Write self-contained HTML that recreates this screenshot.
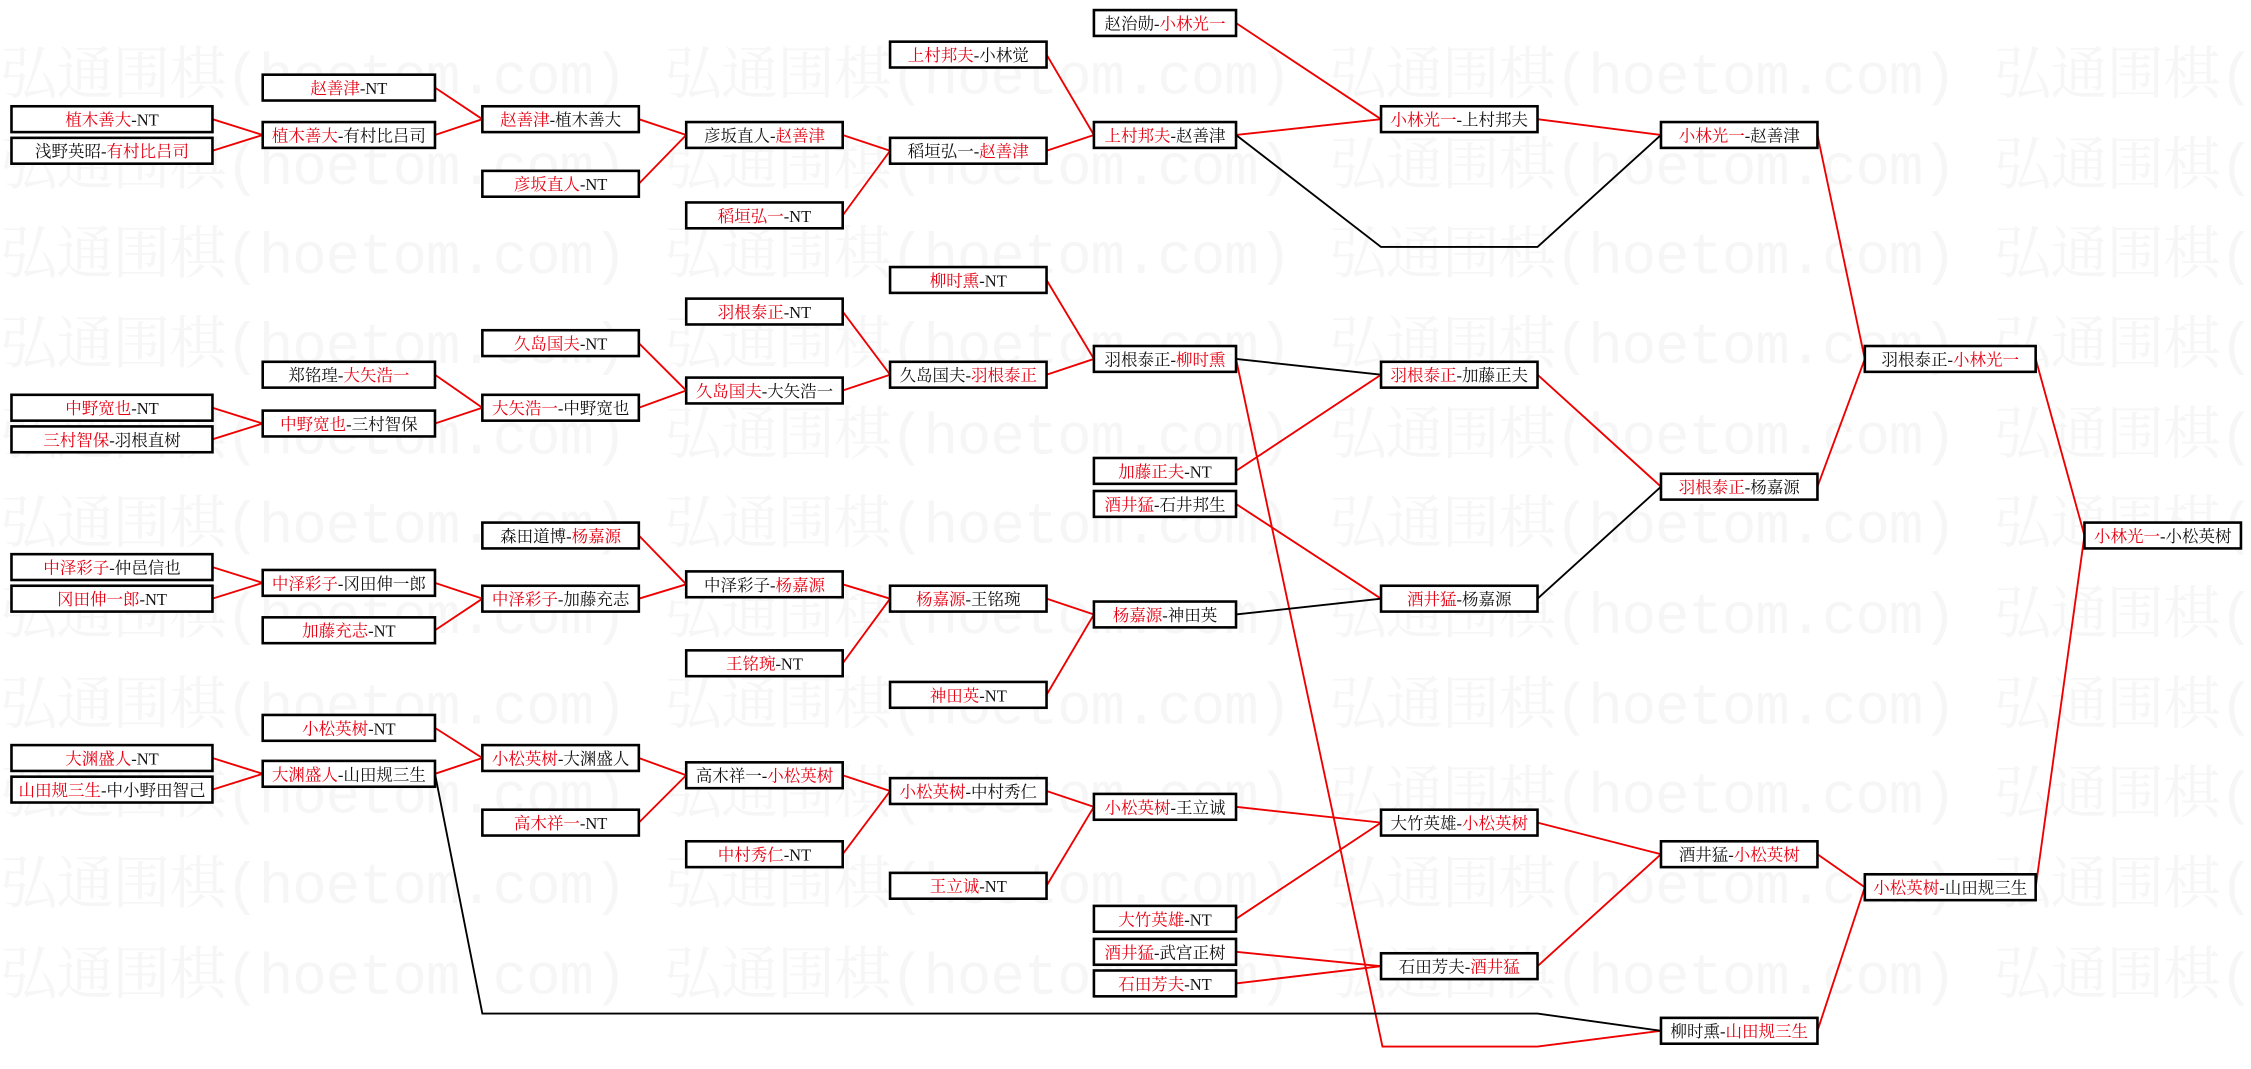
<!DOCTYPE html>
<html><head><meta charset="utf-8"><style>
html,body{margin:0;padding:0;background:#fff;}
svg{display:block;}
.b rect{fill:#fff;stroke:#000;stroke-width:1.8;}
.b text{font-family:"Liberation Serif","Noto Serif CJK SC",serif;font-size:11.5px;text-anchor:middle;fill:#111;}
.r{fill:#e60012;}
.l{fill:none;stroke:#e00;stroke-width:1.3;}
.k{fill:none;stroke:#000;stroke-width:1.3;}
.w{font-family:"Liberation Mono","Noto Serif CJK SC",serif;font-size:40px;fill:#f6f6f6;}
</style></head><body>
<svg width="2251" height="1069" viewBox="0 0 1568 744.6" xmlns="http://www.w3.org/2000/svg">
<g class="w">
<text x="0" y="65" textLength="437">弘通围棋(hoetom.com)</text><text x="463" y="65" textLength="437">弘通围棋(hoetom.com)</text><text x="926" y="65" textLength="437">弘通围棋(hoetom.com)</text><text x="1389" y="65" textLength="437">弘通围棋(hoetom.com)</text>
<text x="0" y="128" textLength="437">弘通围棋(hoetom.com)</text><text x="463" y="128" textLength="437">弘通围棋(hoetom.com)</text><text x="926" y="128" textLength="437">弘通围棋(hoetom.com)</text><text x="1389" y="128" textLength="437">弘通围棋(hoetom.com)</text>
<text x="0" y="190" textLength="437">弘通围棋(hoetom.com)</text><text x="463" y="190" textLength="437">弘通围棋(hoetom.com)</text><text x="926" y="190" textLength="437">弘通围棋(hoetom.com)</text><text x="1389" y="190" textLength="437">弘通围棋(hoetom.com)</text>
<text x="0" y="253" textLength="437">弘通围棋(hoetom.com)</text><text x="463" y="253" textLength="437">弘通围棋(hoetom.com)</text><text x="926" y="253" textLength="437">弘通围棋(hoetom.com)</text><text x="1389" y="253" textLength="437">弘通围棋(hoetom.com)</text>
<text x="0" y="316" textLength="437">弘通围棋(hoetom.com)</text><text x="463" y="316" textLength="437">弘通围棋(hoetom.com)</text><text x="926" y="316" textLength="437">弘通围棋(hoetom.com)</text><text x="1389" y="316" textLength="437">弘通围棋(hoetom.com)</text>
<text x="0" y="378" textLength="437">弘通围棋(hoetom.com)</text><text x="463" y="378" textLength="437">弘通围棋(hoetom.com)</text><text x="926" y="378" textLength="437">弘通围棋(hoetom.com)</text><text x="1389" y="378" textLength="437">弘通围棋(hoetom.com)</text>
<text x="0" y="441" textLength="437">弘通围棋(hoetom.com)</text><text x="463" y="441" textLength="437">弘通围棋(hoetom.com)</text><text x="926" y="441" textLength="437">弘通围棋(hoetom.com)</text><text x="1389" y="441" textLength="437">弘通围棋(hoetom.com)</text>
<text x="0" y="504" textLength="437">弘通围棋(hoetom.com)</text><text x="463" y="504" textLength="437">弘通围棋(hoetom.com)</text><text x="926" y="504" textLength="437">弘通围棋(hoetom.com)</text><text x="1389" y="504" textLength="437">弘通围棋(hoetom.com)</text>
<text x="0" y="566" textLength="437">弘通围棋(hoetom.com)</text><text x="463" y="566" textLength="437">弘通围棋(hoetom.com)</text><text x="926" y="566" textLength="437">弘通围棋(hoetom.com)</text><text x="1389" y="566" textLength="437">弘通围棋(hoetom.com)</text>
<text x="0" y="629" textLength="437">弘通围棋(hoetom.com)</text><text x="463" y="629" textLength="437">弘通围棋(hoetom.com)</text><text x="926" y="629" textLength="437">弘通围棋(hoetom.com)</text><text x="1389" y="629" textLength="437">弘通围棋(hoetom.com)</text>
<text x="0" y="692" textLength="437">弘通围棋(hoetom.com)</text><text x="463" y="692" textLength="437">弘通围棋(hoetom.com)</text><text x="926" y="692" textLength="437">弘通围棋(hoetom.com)</text><text x="1389" y="692" textLength="437">弘通围棋(hoetom.com)</text>
</g>

<g>
<path class="l" d="M148,83L183,94M148,105L183,94"/>
<path class="l" d="M303,61L336,83M303,94L336,83"/>
<path class="l" d="M445,83L478,94M445,128L478,94"/>
<path class="l" d="M587,94L620,105M587,150L620,105"/>
<path class="l" d="M729,38L762,94M729,105L762,94"/>
<path class="l" d="M861,16L962,83M861,94L962,83"/>
<path class="k" d="M861,94L962,172L1071,172L1157,94"/>
<path class="l" d="M1071,83L1157,94"/>
<path class="l" d="M1266,94L1299,250M1266,339L1299,250"/>
<path class="l" d="M1418,250L1452,373M1418,618L1452,373"/>
<path class="l" d="M148,284L183,295M148,306L183,295"/>
<path class="l" d="M303,261L336,284M303,295L336,284"/>
<path class="l" d="M445,239L478,272M445,284L478,272"/>
<path class="l" d="M587,217L620,261M587,272L620,261"/>
<path class="l" d="M729,195L762,250M729,261L762,250"/>
<path class="k" d="M861,250L962,261"/>
<path class="l" d="M861,328L962,261"/>
<path class="l" d="M861,250L963,729L1071,729L1157,718"/>
<path class="l" d="M1071,261L1157,339"/>
<path class="k" d="M1071,417L1157,339"/>
<path class="l" d="M861,351L962,417"/>
<path class="k" d="M861,428L962,417"/>
<path class="l" d="M729,417L762,428M729,484L762,428"/>
<path class="l" d="M587,407L620,417M587,462L620,417"/>
<path class="l" d="M445,373L478,407M445,417L478,407"/>
<path class="l" d="M148,395L183,406M148,417L183,406"/>
<path class="l" d="M303,406L336,417M303,439L336,417"/>
<path class="l" d="M148,528L183,539M148,550L183,539"/>
<path class="l" d="M303,507L336,528M303,539L336,528"/>
<path class="k" d="M303,539L336,706L1071,706L1157,718"/>
<path class="l" d="M445,528L478,540M445,573L478,540"/>
<path class="l" d="M587,540L620,551M587,595L620,551"/>
<path class="l" d="M729,551L762,562M729,617L762,562"/>
<path class="l" d="M861,562L962,573M861,640L962,573"/>
<path class="l" d="M861,663L962,673M861,685L962,673"/>
<path class="l" d="M1071,573L1157,595M1071,673L1157,595"/>
<path class="l" d="M1266,595L1299,618M1266,718L1299,618"/>
</g>

<g class="b">
<rect x="8" y="74" width="140" height="18"/><text x="78" y="87.5"><tspan class="r">植木善大</tspan>-NT</text>
<rect x="8" y="96" width="140" height="18"/><text x="78" y="109.5">浅野英昭-<tspan class="r">有村比吕司</tspan></text>
<rect x="8" y="275" width="140" height="18"/><text x="78" y="288.5"><tspan class="r">中野宽也</tspan>-NT</text>
<rect x="8" y="297" width="140" height="18"/><text x="78" y="310.5"><tspan class="r">三村智保</tspan>-羽根直树</text>
<rect x="8" y="386" width="140" height="18"/><text x="78" y="399.5"><tspan class="r">中泽彩子</tspan>-仲邑信也</text>
<rect x="8" y="408" width="140" height="18"/><text x="78" y="421.5"><tspan class="r">冈田伸一郎</tspan>-NT</text>
<rect x="8" y="519" width="140" height="18"/><text x="78" y="532.5"><tspan class="r">大渊盛人</tspan>-NT</text>
<rect x="8" y="541" width="140" height="18"/><text x="78" y="554.5"><tspan class="r">山田规三生</tspan>-中小野田智己</text>
<rect x="183" y="52" width="120" height="18"/><text x="243" y="65.5"><tspan class="r">赵善津</tspan>-NT</text>
<rect x="183" y="85" width="120" height="18"/><text x="243" y="98.5"><tspan class="r">植木善大</tspan>-有村比吕司</text>
<rect x="183" y="252" width="120" height="18"/><text x="243" y="265.5">郑铭瑝-<tspan class="r">大矢浩一</tspan></text>
<rect x="183" y="286" width="120" height="18"/><text x="243" y="299.5"><tspan class="r">中野宽也</tspan>-三村智保</text>
<rect x="183" y="397" width="120" height="18"/><text x="243" y="410.5"><tspan class="r">中泽彩子</tspan>-冈田伸一郎</text>
<rect x="183" y="430" width="120" height="18"/><text x="243" y="443.5"><tspan class="r">加藤充志</tspan>-NT</text>
<rect x="183" y="498" width="120" height="18"/><text x="243" y="511.5"><tspan class="r">小松英树</tspan>-NT</text>
<rect x="183" y="530" width="120" height="18"/><text x="243" y="543.5"><tspan class="r">大渊盛人</tspan>-山田规三生</text>
<rect x="336" y="74" width="109" height="18"/><text x="390.5" y="87.5"><tspan class="r">赵善津</tspan>-植木善大</text>
<rect x="336" y="119" width="109" height="18"/><text x="390.5" y="132.5"><tspan class="r">彦坂直人</tspan>-NT</text>
<rect x="336" y="230" width="109" height="18"/><text x="390.5" y="243.5"><tspan class="r">久岛国夫</tspan>-NT</text>
<rect x="336" y="275" width="109" height="18"/><text x="390.5" y="288.5"><tspan class="r">大矢浩一</tspan>-中野宽也</text>
<rect x="336" y="364" width="109" height="18"/><text x="390.5" y="377.5">森田道博-<tspan class="r">杨嘉源</tspan></text>
<rect x="336" y="408" width="109" height="18"/><text x="390.5" y="421.5"><tspan class="r">中泽彩子</tspan>-加藤充志</text>
<rect x="336" y="519" width="109" height="18"/><text x="390.5" y="532.5"><tspan class="r">小松英树</tspan>-大渊盛人</text>
<rect x="336" y="564" width="109" height="18"/><text x="390.5" y="577.5"><tspan class="r">高木祥一</tspan>-NT</text>
<rect x="478" y="85" width="109" height="18"/><text x="532.5" y="98.5">彦坂直人-<tspan class="r">赵善津</tspan></text>
<rect x="478" y="141" width="109" height="18"/><text x="532.5" y="154.5"><tspan class="r">稻垣弘一</tspan>-NT</text>
<rect x="478" y="208" width="109" height="18"/><text x="532.5" y="221.5"><tspan class="r">羽根泰正</tspan>-NT</text>
<rect x="478" y="263" width="109" height="18"/><text x="532.5" y="276.5"><tspan class="r">久岛国夫</tspan>-大矢浩一</text>
<rect x="478" y="398" width="109" height="18"/><text x="532.5" y="411.5">中泽彩子-<tspan class="r">杨嘉源</tspan></text>
<rect x="478" y="453" width="109" height="18"/><text x="532.5" y="466.5"><tspan class="r">王铭琬</tspan>-NT</text>
<rect x="478" y="531" width="109" height="18"/><text x="532.5" y="544.5">高木祥一-<tspan class="r">小松英树</tspan></text>
<rect x="478" y="586" width="109" height="18"/><text x="532.5" y="599.5"><tspan class="r">中村秀仁</tspan>-NT</text>
<rect x="620" y="29" width="109" height="18"/><text x="674.5" y="42.5"><tspan class="r">上村邦夫</tspan>-小林觉</text>
<rect x="620" y="96" width="109" height="18"/><text x="674.5" y="109.5">稻垣弘一-<tspan class="r">赵善津</tspan></text>
<rect x="620" y="186" width="109" height="18"/><text x="674.5" y="199.5"><tspan class="r">柳时熏</tspan>-NT</text>
<rect x="620" y="252" width="109" height="18"/><text x="674.5" y="265.5">久岛国夫-<tspan class="r">羽根泰正</tspan></text>
<rect x="620" y="408" width="109" height="18"/><text x="674.5" y="421.5"><tspan class="r">杨嘉源</tspan>-王铭琬</text>
<rect x="620" y="475" width="109" height="18"/><text x="674.5" y="488.5"><tspan class="r">神田英</tspan>-NT</text>
<rect x="620" y="542" width="109" height="18"/><text x="674.5" y="555.5"><tspan class="r">小松英树</tspan>-中村秀仁</text>
<rect x="620" y="608" width="109" height="18"/><text x="674.5" y="621.5"><tspan class="r">王立诚</tspan>-NT</text>
<rect x="762" y="7" width="99" height="18"/><text x="811.5" y="20.5">赵治勋-<tspan class="r">小林光一</tspan></text>
<rect x="762" y="85" width="99" height="18"/><text x="811.5" y="98.5"><tspan class="r">上村邦夫</tspan>-赵善津</text>
<rect x="762" y="241" width="99" height="18"/><text x="811.5" y="254.5">羽根泰正-<tspan class="r">柳时熏</tspan></text>
<rect x="762" y="319" width="99" height="18"/><text x="811.5" y="332.5"><tspan class="r">加藤正夫</tspan>-NT</text>
<rect x="762" y="342" width="99" height="18"/><text x="811.5" y="355.5"><tspan class="r">酒井猛</tspan>-石井邦生</text>
<rect x="762" y="419" width="99" height="18"/><text x="811.5" y="432.5"><tspan class="r">杨嘉源</tspan>-神田英</text>
<rect x="762" y="553" width="99" height="18"/><text x="811.5" y="566.5"><tspan class="r">小松英树</tspan>-王立诚</text>
<rect x="762" y="631" width="99" height="18"/><text x="811.5" y="644.5"><tspan class="r">大竹英雄</tspan>-NT</text>
<rect x="762" y="654" width="99" height="18"/><text x="811.5" y="667.5"><tspan class="r">酒井猛</tspan>-武宫正树</text>
<rect x="762" y="676" width="99" height="18"/><text x="811.5" y="689.5"><tspan class="r">石田芳夫</tspan>-NT</text>
<rect x="962" y="74" width="109" height="18"/><text x="1016.5" y="87.5"><tspan class="r">小林光一</tspan>-上村邦夫</text>
<rect x="962" y="252" width="109" height="18"/><text x="1016.5" y="265.5"><tspan class="r">羽根泰正</tspan>-加藤正夫</text>
<rect x="962" y="408" width="109" height="18"/><text x="1016.5" y="421.5"><tspan class="r">酒井猛</tspan>-杨嘉源</text>
<rect x="962" y="564" width="109" height="18"/><text x="1016.5" y="577.5">大竹英雄-<tspan class="r">小松英树</tspan></text>
<rect x="962" y="664" width="109" height="18"/><text x="1016.5" y="677.5">石田芳夫-<tspan class="r">酒井猛</tspan></text>
<rect x="1157" y="85" width="109" height="18"/><text x="1211.5" y="98.5"><tspan class="r">小林光一</tspan>-赵善津</text>
<rect x="1157" y="330" width="109" height="18"/><text x="1211.5" y="343.5"><tspan class="r">羽根泰正</tspan>-杨嘉源</text>
<rect x="1157" y="586" width="109" height="18"/><text x="1211.5" y="599.5">酒井猛-<tspan class="r">小松英树</tspan></text>
<rect x="1157" y="709" width="109" height="18"/><text x="1211.5" y="722.5">柳时熏-<tspan class="r">山田规三生</tspan></text>
<rect x="1299" y="241" width="119" height="18"/><text x="1358.5" y="254.5">羽根泰正-<tspan class="r">小林光一</tspan></text>
<rect x="1299" y="609" width="119" height="18"/><text x="1358.5" y="622.5"><tspan class="r">小松英树</tspan>-山田规三生</text>
<rect x="1452" y="364" width="109" height="18"/><text x="1506.5" y="377.5"><tspan class="r">小林光一</tspan>-小松英树</text>
</g>
</svg>
</body></html>
